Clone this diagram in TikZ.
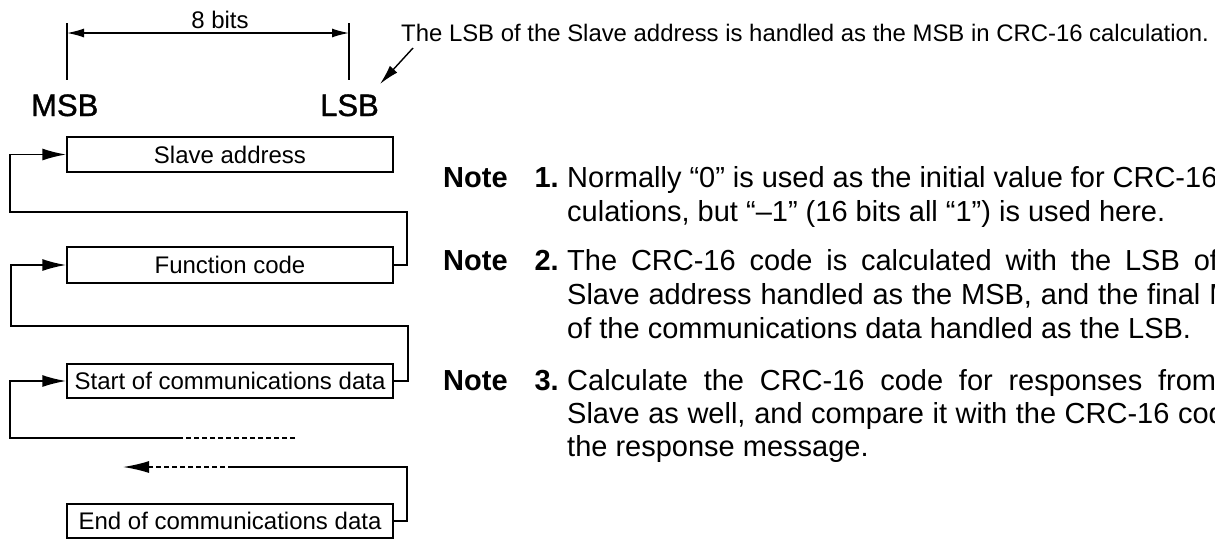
\documentclass[tikz,border=0pt]{standalone}
\usepackage{fontspec}
\setmainfont{Liberation Sans}
\newfontfamily\heavyfont[FakeBold=1.2]{Liberation Sans}
\usetikzlibrary{arrows.meta}
\begin{document}
\begin{tikzpicture}[x=1pt,y=-1pt,
  box/.style={draw,line width=1.4pt,minimum width=326pt,minimum height=35pt,inner sep=0pt,font=\fontsize{24}{28}\selectfont},
  conn/.style={line width=1.8pt},
  tipbig/.style={-{Latex[length=24pt,width=12pt]}},
  dimtip/.style={{Latex[length=17pt,width=9pt]}-{Latex[length=17pt,width=9pt]}},
  label/.style={anchor=base,inner sep=0pt,font=\fontsize{24}{28}\selectfont},
  bigl/.style={anchor=base west,inner sep=0pt,font=\heavyfont\fontsize{31}{36}\selectfont},
  notetxt/.style={anchor=base west,inner sep=0pt,font=\fontsize{29}{33}\selectfont},
  notehd/.style={anchor=base west,inner sep=0pt,font=\fontsize{29}{33}\selectfont\bfseries},
  notenum/.style={anchor=base east,inner sep=0pt,font=\fontsize{29}{33}\selectfont\bfseries},
  dashedline/.style={line width=1.6pt,dash pattern=on 5pt off 3pt}]
\useasboundingbox (0,0) rectangle (1215,539);
\clip (0,0) rectangle (1215,539);

% top dimension
\coordinate (tl1) at (67,23); \coordinate (tl2) at (67,80);
\coordinate (tr1) at (349,23); \coordinate (tr2) at (349,80);
\coordinate (al) at (67,33); \coordinate (ar) at (349,33);
\draw[conn,line width=1.4pt] (tl1) -- (tl2);
\draw[conn,line width=1.4pt] (tr1) -- (tr2);
\draw[line width=1.4pt,dimtip] (al) -- (ar);
\node[label] (bits) at (220,28) {8 bits};
\node[bigl] (msb) at (31,116) {MSB};
\node[bigl] (lsb) at (320,116) {LSB};

% note on top
\node[anchor=base west,inner sep=0pt,font=\fontsize{23.9}{28}\selectfont] (toptxt) at (401,41)
  {The LSB of the Slave address is handled as the MSB in CRC-16 calculation.};
\coordinate (da) at (413,48); \coordinate (db) at (380,84);
\draw[line width=1.4pt,-{Latex[length=20pt,width=10pt]}] (da) -- (db);

% boxes
\node[box] (slave) at (230,154.5) {Slave address};
\node[box,minimum height=36pt] (func) at (230,265) {Function code};
\node[box,minimum height=34pt] (start) at (230,381) {Start of communications data};
\node[box,minimum height=34pt] (endd) at (230,521) {End of communications data};

% connectors
\coordinate (r1) at (407,212); \coordinate (l1) at (10,212);
\draw[conn,tipbig] (func.east) -| (r1) -- (l1) |- (slave.west);
\coordinate (r2) at (408,326); \coordinate (l2) at (11,326);
\draw[conn,tipbig] (start.east) -| (r2) -- (l2) |- (func.west);
\coordinate (d1) at (295,438); \coordinate (d2) at (182,438); \coordinate (l3) at (10,438);
\draw[dashedline] (d1) -- (d2);
\draw[conn,tipbig] (d2) -- (l3) |- (start.west);
\coordinate (r4) at (407,467); \coordinate (e1) at (233,467); \coordinate (e2) at (123,467);
\draw[conn] (endd.east) -| (r4) -- (e1);
\draw[dashedline,-{Latex[length=26pt,width=12pt]}] (e1) -- (e2);

% notes
\node[notehd] (n1h) at (443,187) {Note};
\node[notenum] (n1n) at (559,187) {1.};
\node[notetxt] (n1a) at (567,187) {\makebox[705pt][s]{Normally “0” is used as the initial value for CRC-16 cal-}};
\node[notetxt] (n1b) at (567,221) {culations, but “–1” (16 bits all “1”) is used here.};

\node[notehd] (n2h) at (443,270) {Note};
\node[notenum] (n2n) at (559,270) {2.};
\node[notetxt] (n2a) at (567,270) {\makebox[705pt][s]{The CRC-16 code is calculated with the LSB of the}};
\node[notetxt] (n2b) at (567,304) {\makebox[705pt][s]{Slave address handled as the MSB, and the final MSB}};
\node[notetxt] (n2c) at (567,338) {of the communications data handled as the LSB.};

\node[notehd] (n3h) at (443,390) {Note};
\node[notenum] (n3n) at (559,390) {3.};
\node[notetxt] (n3a) at (567,390) {\makebox[705pt][s]{Calculate the CRC-16 code for responses from the}};
\node[notetxt] (n3b) at (567,423) {\makebox[705pt][s]{Slave as well, and compare it with the CRC-16 code in}};
\node[notetxt] (n3c) at (567,456) {the response message.};
\end{tikzpicture}
\end{document}
